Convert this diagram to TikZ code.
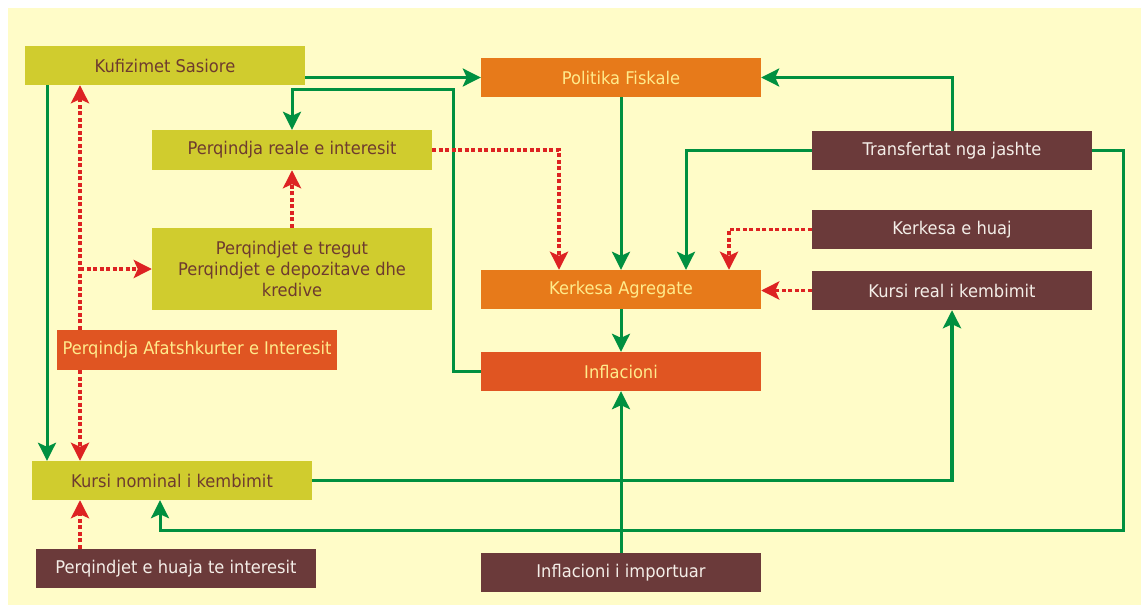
\documentclass[tikz,border=0pt]{standalone}
\usepackage{fontspec}
\setmainfont{DejaVu Sans}[FakeStretch=0.93]
\usetikzlibrary{arrows.meta}
\definecolor{bgY}{HTML}{FFFCC8}
\definecolor{olive}{HTML}{D0CC2E}
\definecolor{oliveTxt}{HTML}{6E3B2E}
\definecolor{orng}{HTML}{E77A1A}
\definecolor{redorng}{HTML}{E05522}
\definecolor{brwn}{HTML}{6B3A3A}
\definecolor{lightTxt}{HTML}{FFEB8C}
\definecolor{whiteTxt}{HTML}{F4EEE8}
\definecolor{grn}{HTML}{009040}
\definecolor{rdd}{HTML}{DD2222}
\tikzset{
  box/.style={inner sep=0pt, minimum width=280pt, minimum height=39pt, align=center,
    font=\fontsize{17.5}{21}\selectfont},
  olivebox/.style={box, fill=olive, text=oliveTxt},
  orangebox/.style={box, fill=orng, text=lightTxt},
  redbox/.style={box, fill=redorng, text=lightTxt},
  brownbox/.style={box, fill=brwn, text=whiteTxt},
  garrow/.style={draw=grn, line width=3pt, -{Stealth[length=18pt,width=18pt,inset=4pt]}},
  rarrow/.style={draw=rdd, line width=3.5pt, dash pattern=on 4pt off 2.5pt,
    -{Stealth[length=18pt,width=18pt,inset=4pt]}},
}
\begin{document}
\begin{tikzpicture}[x=1pt,y=-1pt]
\useasboundingbox (0,0) rectangle (1141,605);
\fill[white] (0,0) rectangle (1141,605);
\fill[bgY] (8,8) rectangle (1141,605);

\node[olivebox] (ks) at (165,65.5) {Kufizimet Sasiore};
\node[olivebox, minimum height=40pt] (pr) at (292,150) {Perqindja reale e interesit};
\node[olivebox, minimum height=82pt] (pt) at (292,269) {Perqindjet e tregut\\Perqindjet e depozitave dhe\\kredive};
\node[redbox, minimum height=40pt] (pa) at (197,350) {Perqindja Afatshkurter e Interesit};
\node[olivebox] (kn) at (172,480.5) {Kursi nominal i kembimit};
\node[brownbox] (ph) at (176,568.5) {Perqindjet e huaja te interesit};
\node[orangebox] (pf) at (621,77.5) {Politika Fiskale};
\node[orangebox] (ka) at (621,289.5) {Kerkesa Agregate};
\node[redbox] (inf) at (621,371.5) {Inflacioni};
\node[brownbox] (ii) at (621,572.5) {Inflacioni i importuar};
\node[brownbox] (tj) at (952,150.5) {Transfertat nga jashte};
\node[brownbox] (kh) at (952,229.5) {Kerkesa e huaj};
\node[brownbox] (kr) at (952,290.5) {Kursi real i kembimit};

\coordinate (x47) at (47,0);
\coordinate (x80) at (80,0);
\coordinate (x160) at (160,0);
\coordinate (c453) at (453,89);
\coordinate (x559) at (559,0);
\coordinate (x686) at (686,0);
\coordinate (x729) at (729,0);
\coordinate (c1123) at (1123,530);

% green connectors
\draw[garrow] (ks.east |- pf.west) -- (pf.west);
\draw[garrow] (inf.west) -| (c453) -| (pr.north);
\draw[garrow] (ks.south -| x47) -- (kn.north -| x47);
\draw[garrow] (pf.south) -- (ka.north);
\draw[garrow] (tj.west) -| (ka.north -| x686);
\draw[garrow] (tj.north) |- (pf.east);
\draw[garrow] (ka.south) -- (inf.north);
\draw[garrow] (ii.north) -- (inf.south);
\draw[garrow, line width=3.5pt] (kn.east) -| (kr.south);
\draw[garrow] (tj.east) -| (c1123) -| (kn.south -| x160);

% red dotted connectors
\draw[rarrow] (pa.north -| x80) -- (ks.south -| x80);
\draw[rarrow] (pt.west -| x80) -- (pt.west);
\draw[rarrow] (pa.south -| x80) -- (kn.north -| x80);
\draw[rarrow] (ph.north -| x80) -- (kn.south -| x80);
\draw[rarrow] (pt.north) -- (pr.south);
\draw[rarrow] (pr.east) -| (ka.north -| x559);
\draw[rarrow] (kh.west) -| (ka.north -| x729);
\draw[rarrow] (kr.west) -- (kr.west -| ka.east);
\end{tikzpicture}
\end{document}
